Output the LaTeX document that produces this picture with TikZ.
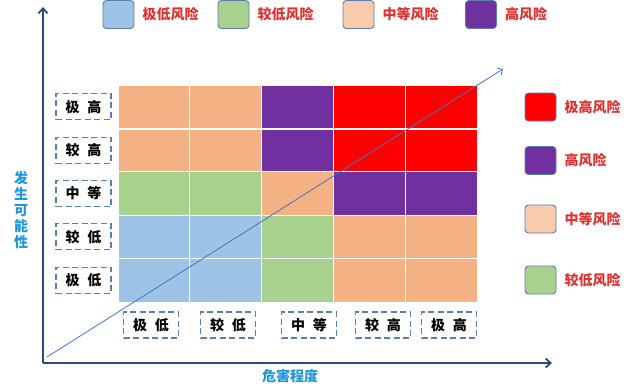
\documentclass[tikz,border=0pt]{standalone}
\usepackage{fontspec}
\newfontfamily\cjk{Noto Sans CJK SC}
\usetikzlibrary{positioning,arrows.meta}

\definecolor{riskBlue}{HTML}{9DC3E6}
\definecolor{riskGreen}{HTML}{A9D18E}
\definecolor{riskOrange}{HTML}{F4B183}
\definecolor{riskPeach}{HTML}{F8CBAD}
\definecolor{riskPurple}{HTML}{7030A0}
\definecolor{riskRed}{HTML}{FF0000}
\definecolor{axisBlue}{HTML}{2B4A7A}
\definecolor{tagBlue}{HTML}{5B7DB1}
\definecolor{titleBlue}{HTML}{1E96D8}
\definecolor{keyRed}{HTML}{E03030}
\definecolor{diagBlue}{HTML}{4472C4}

\tikzset{
  cell/.style={draw=white, line width=0.8pt, minimum width=71.8pt, minimum height=43.4pt, inner sep=0pt},
  tag/.style={draw=tagBlue, dashed, dash pattern=on 6pt off 3.5pt, line width=1.1pt, minimum width=55pt, minimum height=26pt, inner sep=0pt, font=\cjk\bfseries\fontsize{14}{16}\selectfont},
  keybox/.style={draw=tagBlue, line width=0.9pt, rounded corners=3.5pt, minimum width=31pt, minimum height=28pt, inner sep=0pt},
  keytext/.style={right=8pt of #1, inner sep=0pt, text=keyRed, font=\cjk\bfseries\fontsize{14}{16}\selectfont},
  axistitle/.style={text=titleBlue, inner sep=0pt, font=\cjk\bfseries\fontsize{14}{16}\selectfont}
}
\newcommand{\gapch}[2]{#1\hspace{0.55em}#2}

\begin{document}
\begin{tikzpicture}[x=1pt,y=-1pt]
	\useasboundingbox (0,0) rectangle (638,388);
	\coordinate (Origin)    at (43,363);
	\coordinate (XAxisMax)  at (552,363);
	\coordinate (YAxisMax)  at (43,7);
	\coordinate (DiagStart) at (47,357);
	\coordinate (DiagEnd)   at (503,69);

	% risk matrix, rows from top (extreme high) to bottom (extreme low)
	\foreach \row/\colors in {1/{riskOrange,riskOrange,riskPurple,riskRed,riskRed},
	                          2/{riskOrange,riskOrange,riskPurple,riskRed,riskRed},
	                          3/{riskGreen,riskGreen,riskOrange,riskPurple,riskPurple},
	                          4/{riskBlue,riskBlue,riskGreen,riskOrange,riskOrange},
	                          5/{riskBlue,riskBlue,riskGreen,riskOrange,riskOrange}}
	  \foreach \c [count=\col] in \colors
	    \node[cell, fill=\c] (cell-\row-\col) at ({118+71.8*(\col-0.5)},{85+43.4*(\row-0.5)}) {};
	\draw[white, line width=2.5pt] (cell-1-1.south west) -- (cell-1-5.south east);

	% likelihood levels
	\foreach \row/\txt in {1/{\gapch{极}{高}},2/{\gapch{较}{高}},3/{\gapch{中}{等}},4/{\gapch{较}{低}},5/{\gapch{极}{低}}}
	  \node[tag] (ylab-\row) at (83.5,{85+43.4*(\row-0.5)}) {\txt};

	% severity levels
	\foreach \col/\xx/\txt in {1/151/{\gapch{极}{低}},2/228/{\gapch{较}{低}},3/309/{\gapch{中}{等}},4/383/{\gapch{较}{高}},5/449/{\gapch{极}{高}}}
	  \node[tag] (xlab-\col) at (\xx,325) {\txt};

	\draw [line width=1.8pt, axisBlue, -{Straight Barb[length=5pt,width=9pt]}] (Origin) -- (XAxisMax);
	\draw [line width=1.8pt, axisBlue, -{Straight Barb[length=5pt,width=9pt]}] (Origin) -- (YAxisMax);
	\draw [line width=0.8pt, diagBlue, -{Straight Barb[length=4pt,width=8pt]}] (DiagStart) -- (DiagEnd);

	\node[axistitle, align=center] (ytitle) at (21,210) {发\\生\\可\\能\\性};
	\node[axistitle] (xtitle) at (290,376) {危害程度};

	% legend, top row
	\node[keybox, fill=riskBlue]   (key-a) at (118.5,14.5) {};
	\node[keytext=key-a] (keytxt-a) {极低风险};
	\node[keybox, fill=riskGreen]  (key-b) at (233.5,14.5) {};
	\node[keytext=key-b] (keytxt-b) {较低风险};
	\node[keybox, fill=riskPeach]  (key-c) at (358.5,14.5) {};
	\node[keytext=key-c] (keytxt-c) {中等风险};
	\node[keybox, fill=riskPurple] (key-d) at (481,14.5) {};
	\node[keytext=key-d] (keytxt-d) {高风险};

	% legend, right column
	\node[keybox, fill=riskRed]    (key-e) at (540.5,107) {};
	\node[keytext=key-e] (keytxt-e) {极高风险};
	\node[keybox, fill=riskPurple] (key-f) at (540.5,160.5) {};
	\node[keytext=key-f] (keytxt-f) {高风险};
	\node[keybox, fill=riskPeach]  (key-g) at (540.5,219) {};
	\node[keytext=key-g] (keytxt-g) {中等风险};
	\node[keybox, fill=riskGreen]  (key-h) at (540.5,280) {};
	\node[keytext=key-h] (keytxt-h) {较低风险};
\end{tikzpicture}
\end{document}
